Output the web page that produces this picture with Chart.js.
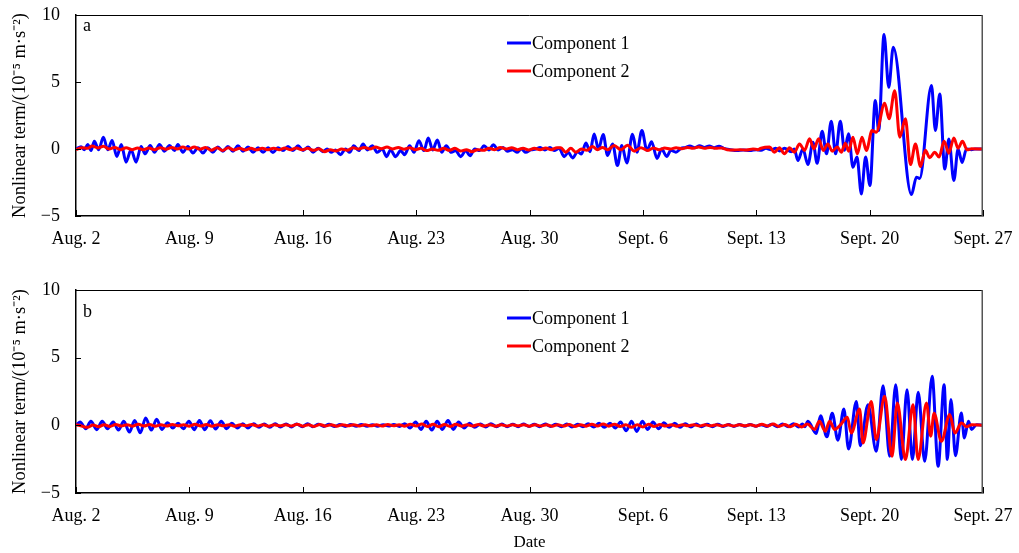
<!DOCTYPE html>
<html>
<head>
<meta charset="utf-8">
<script src="https://cdn.jsdelivr.net/npm/chart.js@4.4.0/dist/chart.umd.min.js"></script>
<style>
html, body { margin: 0; padding: 0; background: #fff; }
#wrap { position: relative; width: 1019px; height: 553px; }
canvas { position: absolute; left: 0; }
#chartA { top: 0; }
#chartB { top: 275px; }
</style>
</head>
<body>
<div id="wrap">
<canvas id="chartA" width="1019" height="275"></canvas>
<canvas id="chartB" width="1019" height="278"></canvas>
</div>
<script>
// Axis labels (x = days since Aug. 2)
const dateLabels = ['Aug. 2', 'Aug. 9', 'Aug. 16', 'Aug. 23', 'Aug. 30', 'Sept. 6', 'Sept. 13', 'Sept. 20', 'Sept. 27'];
const seriesNames = ['Component 1', 'Component 2'];

// Panel a, component 1 : [day, value]
const panelA1 = [
    [0, 0], [0.31, 0.17], [0.52, -0.06], [0.72, 0.34], [0.93, -0.11], [1.13, 0.58], [1.40, -0.06], [1.69, 0.88],
    [1.96, -0.06], [2.23, 0.63], [2.52, -0.56], [2.80, 0.34], [3.09, -0.98], [3.40, -0.06], [3.71, -0.98], [4.02, 0.19],
    [4.27, -0.36], [4.58, 0.26], [4.85, -0.24], [5.15, 0.34], [5.46, -0.16], [5.77, 0.26], [6.08, -0.11], [6.29, 0.34],
    [6.60, -0.24], [6.91, 0.19], [7.22, -0.30], [7.53, 0.09], [7.84, -0.30], [8.14, 0.09], [8.45, -0.24], [8.76, 0.14],
    [9.07, -0.16], [9.38, 0.19], [9.69, -0.16], [10.0, 0.24], [10.31, -0.16], [10.62, 0.14], [10.93, -0.24], [11.24, 0.09],
    [11.55, -0.24], [11.86, 0.09], [12.16, -0.26], [12.47, 0.09], [12.78, -0.11], [13.09, 0.19], [13.40, -0.11], [13.71, 0.24],
    [14.02, -0.11], [14.33, 0.14], [14.64, -0.24], [14.95, 0.05], [15.25, -0.2], [15.5, 0.0], [15.75, -0.25], [16.02, -0.07],
    [16.33, -0.42], [16.64, 0], [16.9, -0.25], [17.15, 0.25], [17.46, -0.12], [17.73, 0.37], [17.98, -0.07], [18.29, 0.25],
    [18.60, -0.25], [18.91, 0], [19.17, -0.57], [19.42, -0.07], [19.73, -0.57], [20.04, -0.12], [20.29, -0.42], [20.6, 0.25],
    [20.87, -0.25], [21.17, 0.62], [21.48, -0.12], [21.75, 0.82], [22.02, -0.07], [22.31, 0.67], [22.58, -0.25], [22.86, 0.25],
    [23.17, -0.25], [23.44, -0.12], [23.75, -0.57], [24.06, -0.12], [24.33, -0.5], [24.62, 0], [24.93, -0.12], [25.19, 0.25],
    [25.5, -0.07], [25.77, 0.32], [26.06, -0.07], [26.37, 0.12], [26.64, -0.17], [26.95, -0.05], [27.22, -0.25], [27.5, 0],
    [27.77, -0.25], [28.08, -0.07], [28.39, 0], [28.66, 0.12], [28.95, -0.07], [29.26, 0.12], [29.52, -0.12], [29.83, 0.05],
    [30.14, -0.57], [30.39, -0.25], [30.66, -0.67], [30.97, -0.2], [31.21, -0.37], [31.48, 0.45], [31.74, -0.2], [31.99, 1.12],
    [32.26, 0], [32.55, 1.08], [32.82, -0.48], [33.13, 0.38], [33.43, -1.23], [33.7, 0.26], [34.01, -1.05], [34.36, 1.1],
    [34.63, -0.24], [34.94, 1.38], [35.25, -0.1], [35.54, 0.55], [35.87, -0.7], [36.16, 0], [36.47, -0.56], [36.73, -0.1],
    [37.04, -0.24], [37.35, 0.05], [37.6, 0.1], [37.9, 0.22], [38.2, 0.1], [38.5, 0.25], [38.8, 0.12], [39.1, 0.22],
    [39.4, 0.1], [39.7, 0.2], [40.0, 0.05], [40.4, -0.05], [40.8, -0.12], [41.2, -0.08], [41.6, -0.12], [42.0, -0.05],
    [42.3, -0.1], [42.6, 0.05], [42.92, -0.05], [43.2, 0.05], [43.45, -0.15], [43.74, 0.05], [44.16, -0.2], [44.35, 0.0],
    [44.57, -0.86], [44.88, 0], [45.19, -1.16], [45.5, 0.5], [45.76, -1.06], [46.07, 1.33], [46.34, -0.36], [46.63, 2.08],
    [46.9, -0.36], [47.19, 2.08], [47.45, -0.1], [47.7, 1.13], [47.97, -1.36], [48.22, -0.6], [48.49, -3.35], [48.75, -0.6],
    [49.02, -2.72], [49.35, 3.62], [49.56, 1.38], [49.89, 8.54], [50.18, 4.6], [50.46, 7.6], [51.58, -3.4], [51.89, -2.1],
    [52.09, -2.2], [52.82, 4.74], [53.06, 1.38], [53.33, 4.1], [53.64, -1.5], [53.89, 0.75], [54.2, -2.35], [54.46, 0],
    [54.71, -1.0], [54.98, 0], [55.29, -0.05], [55.5, 0], [56, 0]
];

// Panel a, component 2
const panelA2 = [
    [0, -0.05], [0.35, 0.1], [0.7, 0.05], [1.0, 0.22], [1.35, 0.08], [1.7, 0.2], [2.05, 0.0], [2.4, 0.12],
    [2.75, -0.05], [3.1, 0.1], [3.45, -0.05], [3.8, 0.08], [4.15, -0.06], [4.5, 0.08], [4.85, -0.05], [5.2, 0.1],
    [5.55, -0.02], [5.9, 0.12], [6.25, 0.0], [6.6, 0.15], [6.95, 0.0], [7.3, 0.15], [7.65, -0.02], [8.0, 0.12],
    [8.35, -0.1], [8.7, 0.1], [9.05, -0.12], [9.4, 0.1], [9.75, -0.08], [10.1, 0.05], [10.45, -0.08], [10.8, 0.05],
    [11.15, -0.06], [11.5, 0.05], [11.85, -0.05], [12.2, 0.06], [12.55, -0.05], [12.9, 0.08], [13.25, -0.05], [13.6, 0.08],
    [13.95, -0.06], [14.3, 0.05], [14.65, -0.1], [15.0, 0.02], [15.35, -0.2], [15.7, -0.05], [16.05, -0.15], [16.4, 0.0],
    [16.75, -0.1], [17.1, 0.1], [17.45, 0.0], [17.8, 0.12], [18.15, 0.0], [18.5, 0.15], [18.85, 0.02], [19.2, 0.15],
    [19.55, 0.0], [19.9, 0.12], [20.25, -0.02], [20.6, 0.1], [20.95, -0.05], [21.3, 0.05], [21.65, -0.12], [22.0, 0.0],
    [22.35, -0.1], [22.7, 0.05], [23.05, -0.1], [23.4, 0.05], [23.75, -0.15], [24.1, -0.05], [24.45, -0.2], [24.8, -0.05],
    [25.15, -0.1], [25.5, 0.05], [25.85, -0.05], [26.2, 0.12], [26.55, 0.0], [26.9, 0.1], [27.25, -0.05], [27.6, 0.05],
    [27.95, -0.08], [28.3, 0.05], [28.65, -0.05], [29.0, 0.08], [29.35, -0.05], [29.7, 0.1], [29.93, 0.09], [30.24, -0.24],
    [30.55, 0.05], [30.86, -0.24], [31.2, 0.0], [31.55, -0.1], [31.89, 0.19], [32.2, -0.05], [32.5, 0.12], [32.82, -0.06],
    [33.23, 0.26], [33.64, -0.06], [34.05, 0.28], [34.47, -0.16], [34.88, 0.1], [35.29, -0.11], [35.65, 0.08], [36.0, -0.05],
    [36.35, 0.08], [36.7, 0.0], [37.05, 0.1], [37.4, 0.02], [37.75, 0.12], [38.1, 0.05], [38.45, 0.15], [38.8, 0.05],
    [39.15, 0.12], [39.5, 0.05], [39.85, 0.08], [40.2, -0.05], [40.6, -0.08], [41.0, -0.05], [41.4, -0.08], [41.8, 0.0],
    [42.1, -0.05], [42.3, 0.06], [42.82, 0.14], [43.12, -0.24], [43.43, 0.09], [43.74, -0.36], [44.05, 0.09], [44.36, -0.24],
    [44.67, 0.38], [44.98, -0.11], [45.29, 0.76], [45.56, 0.01], [45.85, 0.76], [46.14, -0.11], [46.42, 0.38], [46.69, -0.16],
    [47.0, 0.14], [47.25, -0.24], [47.5, 0.43], [47.7, -0.16], [47.97, 0.88], [48.24, -0.36], [48.53, 0.88], [48.8, -0.11],
    [49.15, 1.38], [49.41, 1.25], [49.93, 3.42], [50.2, 2.25], [50.55, 4.35], [50.86, 0.88], [51.21, 2.25], [51.52, -1.16],
    [51.83, 0.38], [52.14, -1.3], [52.44, -0.1], [52.71, -0.65], [53.02, -0.24], [53.29, -0.6], [53.6, 0.58], [53.89, -0.31],
    [54.2, 0.83], [54.46, 0.06], [54.73, 0.58], [55.02, -0.06], [55.29, 0.01], [56, 0]
];

// Panel b, component 1
const panelB1 = [
    [0, 0], [0.25, 0.25], [0.6, -0.25], [0.92, 0.3], [1.28, -0.32], [1.62, 0.3], [1.95, -0.25], [2.3, 0.25],
    [2.62, -0.35], [2.95, 0.3], [3.3, -0.5], [3.62, 0.35], [3.97, -0.55], [4.3, 0.55], [4.65, -0.35], [4.98, 0.45],
    [5.3, -0.3], [5.65, 0.2], [5.98, -0.2], [6.3, 0.15], [6.63, -0.25], [6.97, 0.3], [7.3, -0.32], [7.62, 0.35],
    [7.95, -0.32], [8.3, 0.34], [8.62, -0.28], [8.97, 0.3], [9.3, -0.25], [9.62, 0.15], [9.97, -0.2], [10.3, 0.12],
    [10.62, -0.2], [10.97, 0.12], [11.3, -0.15], [11.62, 0.1], [11.97, -0.15], [12.3, 0.12], [12.62, -0.12], [12.97, 0.1],
    [13.3, -0.12], [13.62, 0.1], [13.97, -0.1], [14.3, 0.12], [14.62, -0.1], [14.97, 0.08], [15.3, -0.08], [15.62, 0.08],
    [15.97, -0.08], [16.3, 0.06], [16.62, -0.08], [16.97, 0.06], [17.3, -0.06], [17.62, 0.06], [17.97, -0.06], [18.3, 0.05],
    [18.62, -0.06], [18.97, 0.05], [19.3, -0.05], [19.62, 0.06], [19.97, -0.08], [20.3, 0.12], [20.62, -0.2], [20.97, 0.25],
    [21.3, -0.3], [21.62, 0.3], [21.97, -0.35], [22.3, 0.3], [22.62, -0.3], [22.97, 0.35], [23.3, -0.3], [23.62, 0.25],
    [23.97, -0.2], [24.3, 0.15], [24.62, -0.15], [24.97, 0.1], [25.3, -0.12], [25.62, 0.12], [25.97, -0.1], [26.3, 0.1],
    [26.62, -0.1], [26.97, 0.08], [27.3, -0.1], [27.62, 0.1], [27.97, -0.08], [28.3, 0.08], [28.62, -0.1], [28.97, 0.1],
    [29.3, -0.08], [29.62, 0.08], [29.97, -0.1], [30.3, 0.1], [30.62, -0.12], [30.97, 0.08], [31.3, -0.1], [31.62, 0.12],
    [31.97, -0.12], [32.3, 0.15], [32.62, -0.15], [32.97, 0.15], [33.3, -0.2], [33.62, 0.25], [33.97, -0.4], [34.3, 0.3],
    [34.62, -0.45], [34.97, 0.3], [35.3, -0.3], [35.62, 0.25], [35.97, -0.25], [36.3, 0.2], [36.62, -0.15], [36.97, 0.15],
    [37.3, -0.15], [37.62, 0.12], [37.97, -0.12], [38.3, 0.1], [38.62, -0.1], [38.97, 0.08], [39.3, -0.1], [39.62, 0.08],
    [39.97, -0.08], [40.3, 0.06], [40.62, -0.08], [40.97, 0.06], [41.3, -0.06], [41.62, 0.06], [41.97, -0.06], [42.3, 0.05],
    [42.62, -0.08], [42.97, 0.08], [43.3, -0.1], [43.62, 0.1], [43.97, -0.1], [44.3, 0.12], [44.62, -0.12], [44.85, 0.1],
    [45.0, -0.1], [45.19, 0.3], [45.7, -0.6], [45.97, 0.7], [46.36, -0.85], [46.69, 0.9], [47.04, -1.1], [47.41, 1.2],
    [47.7, -1.75], [48.18, 1.77], [48.42, -1.5], [48.9, 1.53], [49.41, -1.92], [49.83, 2.93], [50.24, -2.29], [50.61, 3.0],
    [50.96, -2.53], [51.31, 2.63], [51.64, -2.53], [52.0, 2.44], [52.4, -2.66], [52.86, 3.62], [53.23, -3.03], [53.6, 3.0],
    [53.8, -2.53], [54.02, 1.9], [54.3, -2.24], [54.66, 0.91], [54.85, -0.93], [55.1, 0.3], [55.3, -0.3], [55.6, 0.05],
    [56, 0]
];

// Panel b, component 2
const panelB2 = [
    [0, 0.05], [0.35, -0.05], [0.7, -0.15], [1.05, 0.02], [1.4, -0.1], [1.75, 0.05], [2.1, -0.08], [2.45, 0.06],
    [2.8, -0.05], [3.15, 0.05], [3.5, -0.06], [3.85, 0.08], [4.2, -0.05], [4.55, 0.06], [4.9, -0.06], [5.25, 0.05],
    [5.6, -0.05], [5.95, 0.06], [6.3, -0.04], [6.65, 0.05], [7.0, -0.06], [7.35, 0.08], [7.7, -0.05], [8.05, 0.06],
    [8.4, -0.06], [8.75, 0.05], [9.1, -0.04], [9.45, 0.05], [9.8, -0.06], [10.15, 0.05], [10.5, -0.04], [10.85, 0.06],
    [11.2, -0.05], [11.55, 0.04], [11.9, -0.06], [12.25, 0.05], [12.6, -0.04], [12.95, 0.05], [13.3, -0.05], [13.65, 0.08],
    [14.0, -0.06], [14.35, 0.05], [14.7, -0.08], [15.05, 0.06], [15.4, -0.05], [15.75, 0.04], [16.1, -0.06], [16.45, 0.05],
    [16.8, -0.04], [17.15, 0.05], [17.5, -0.05], [17.85, 0.04], [18.2, -0.04], [18.55, 0.05], [18.9, -0.05], [19.25, 0.06],
    [19.6, -0.04], [19.95, 0.05], [20.3, -0.06], [20.65, 0.08], [21.0, -0.05], [21.35, 0.1], [21.7, -0.08], [22.05, 0.08],
    [22.4, -0.1], [22.75, 0.06], [23.1, -0.08], [23.45, 0.08], [23.8, -0.06], [24.15, 0.05], [24.5, -0.05], [24.85, 0.06],
    [25.2, -0.05], [25.55, 0.05], [25.9, -0.06], [26.25, 0.04], [26.6, -0.05], [26.95, 0.05], [27.3, -0.04], [27.65, 0.05],
    [28.0, -0.06], [28.35, 0.05], [28.7, -0.05], [29.05, 0.04], [29.4, -0.06], [29.75, 0.05], [30.1, -0.05], [30.45, 0.06],
    [30.8, -0.08], [31.15, 0.05], [31.5, -0.06], [31.85, 0.08], [32.2, -0.05], [32.55, 0.1], [32.9, -0.06], [33.25, 0.08],
    [33.6, -0.08], [33.95, 0.05], [34.3, -0.15], [34.65, 0.05], [35.0, -0.12], [35.35, 0.08], [35.7, -0.08], [36.05, 0.06],
    [36.4, -0.05], [36.75, 0.05], [37.1, -0.06], [37.45, 0.05], [37.8, -0.04], [38.15, 0.05], [38.5, -0.05], [38.85, 0.04],
    [39.2, -0.04], [39.55, 0.05], [39.9, -0.05], [40.25, 0.04], [40.6, -0.05], [40.95, 0.05], [41.3, -0.04], [41.65, 0.05],
    [42.0, -0.06], [42.35, 0.08], [42.7, -0.05], [43.05, 0.1], [43.4, -0.08], [43.75, 0.06], [44.1, -0.1], [44.45, 0.08],
    [44.8, -0.12], [45.15, 0.1], [45.6, -0.3], [45.9, 0.3], [46.26, -0.44], [46.53, 0.3], [46.84, -0.3], [47.21, 0.05],
    [47.62, 0.6], [47.87, -0.57], [48.38, 1.2], [48.59, -1.3], [49.1, 1.77], [49.41, -1.06], [49.93, 2.14], [50.38, -2.29],
    [50.71, 1.65], [51.21, -2.53], [51.68, 1.53], [51.99, -2.53], [52.51, 1.65], [52.77, -0.8], [52.98, 0.9], [53.43, -1.18],
    [53.95, 0.8], [54.26, -0.57], [54.67, 0.17], [54.98, -0.1], [55.3, 0.05], [56, 0]
];

const FONT = "'Liberation Serif', 'Times New Roman', serif";
const BLUE = '#0000ff';
const RED = '#ff0000';

// Inward tick marks + box frame
const framePlugin = {
    id: 'frame',
    afterDatasetsDraw(chart) {
        const { ctx, chartArea: a, scales } = chart;
        ctx.save();
        ctx.strokeStyle = '#000';
        ctx.lineWidth = 1;
        scales.x.ticks.forEach(t => {
            const px = Math.round(scales.x.getPixelForValue(t.value)) + 0.5;
            ctx.beginPath();
            ctx.moveTo(px, a.bottom);
            ctx.lineTo(px, a.bottom - 6);
            ctx.stroke();
        });
        scales.y.ticks.forEach(t => {
            const py = Math.round(scales.y.getPixelForValue(t.value)) + 0.5;
            ctx.beginPath();
            ctx.moveTo(a.left, py);
            ctx.lineTo(a.left + 5, py);
            ctx.stroke();
        });
        ctx.beginPath();
        ctx.moveTo(a.left, a.top + 0.5);
        ctx.lineTo(a.right - 0.5, a.top + 0.5);
        ctx.strokeStyle = '#000';
        ctx.stroke();
        ctx.beginPath();
        ctx.lineWidth = 1.5;
        ctx.strokeStyle = '#555';
        ctx.moveTo(a.right - 0.75, a.top);
        ctx.lineTo(a.right - 0.75, a.bottom);
        ctx.stroke();
        ctx.restore();
    }
};

// Legend lines and panel letter
const notesPlugin = {
    id: 'notes',
    afterDraw(chart, args, opts) {
        const { ctx, chartArea: a } = chart;
        ctx.save();
        ctx.font = '18px ' + FONT;
        ctx.fillStyle = '#000';
        ctx.textBaseline = 'alphabetic';
        ctx.fillText(opts.letter, a.left + 7, a.top + opts.letterOffset);
        ctx.textBaseline = 'middle';
        chart.data.datasets.forEach((ds, i) => {
            const yy = a.top + 28 + i * 28;
            const x0 = a.left + 431;
            ctx.strokeStyle = ds.borderColor;
            ctx.lineWidth = 3;
            ctx.beginPath();
            ctx.moveTo(x0, yy);
            ctx.lineTo(x0 + 24, yy);
            ctx.stroke();
            ctx.fillText(ds.label, x0 + 25, yy + 1);
        });
        ctx.restore();
    }
};

function toPoints(rows) {
    return rows.map(r => ({ x: r[0], y: r[1] }));
}

function makePanel(canvasId, comp1, comp2, letter, letterOffset, showDate) {
    const ctx = document.getElementById(canvasId).getContext('2d');
    return new Chart(ctx, {
        type: 'line',
        data: {
            datasets: [{
                label: seriesNames[0],
                data: toPoints(comp1),
                borderColor: BLUE,
                borderWidth: 3,
                order: 2
            }, {
                label: seriesNames[1],
                data: toPoints(comp2),
                borderColor: RED,
                borderWidth: 3,
                order: 1
            }]
        },
        options: {
            responsive: false,
            animation: false,
            cubicInterpolationMode: 'monotone',
            elements: { point: { radius: 0 } },
            layout: { padding: { top: 15, right: 36, left: 0, bottom: 0 } },
            plugins: {
                legend: { display: false },
                tooltip: { enabled: false },
                notes: { letter: letter, letterOffset: letterOffset }
            },
            scales: {
                x: {
                    type: 'linear',
                    min: 0,
                    max: 56,
                    grid: { display: false, drawTicks: false },
                    border: { display: true, color: '#000', width: 1.5 },
                    ticks: {
                        stepSize: 7,
                        autoSkip: false,
                        maxRotation: 0,
                        padding: 12,
                        color: '#000',
                        font: { family: FONT, size: 18 },
                        callback: v => dateLabels[Math.round(v / 7)]
                    },
                    title: {
                        display: showDate,
                        text: 'Date',
                        color: '#000',
                        font: { family: FONT, size: 17 },
                        padding: { top: 6, bottom: 0 }
                    },
                    afterFit: s => {
                        s.height = showDate ? 60 : 59;
                        s.paddingLeft = 0;
                        s.paddingRight = 0;
                    }
                },
                y: {
                    min: -5,
                    max: 10,
                    grid: { display: false, drawTicks: false },
                    border: { display: true, color: '#000', width: 1.5 },
                    ticks: {
                        stepSize: 5,
                        padding: 16,
                        color: '#000',
                        font: { family: FONT, size: 18 },
                        callback: v => (v < 0 ? '\u2212' + Math.abs(v) : String(v))
                    },
                    title: {
                        display: true,
                        text: 'Nonlinear term/(10\u207B\u2075 m\u00B7s\u207B\u00B2)',
                        color: '#000',
                        font: { family: FONT, size: 18.5 },
                        padding: { top: 9, bottom: 0 }
                    },
                    afterFit: s => {
                        s.width = 76;
                        s.paddingTop = 0;
                        s.paddingBottom = 0;
                    }
                }
            }
        },
        plugins: [framePlugin, notesPlugin]
    });
}

makePanel('chartA', panelA1, panelA2, 'a', 16, false);
makePanel('chartB', panelB1, panelB2, 'b', 27, true);
</script>
</body>
</html>
